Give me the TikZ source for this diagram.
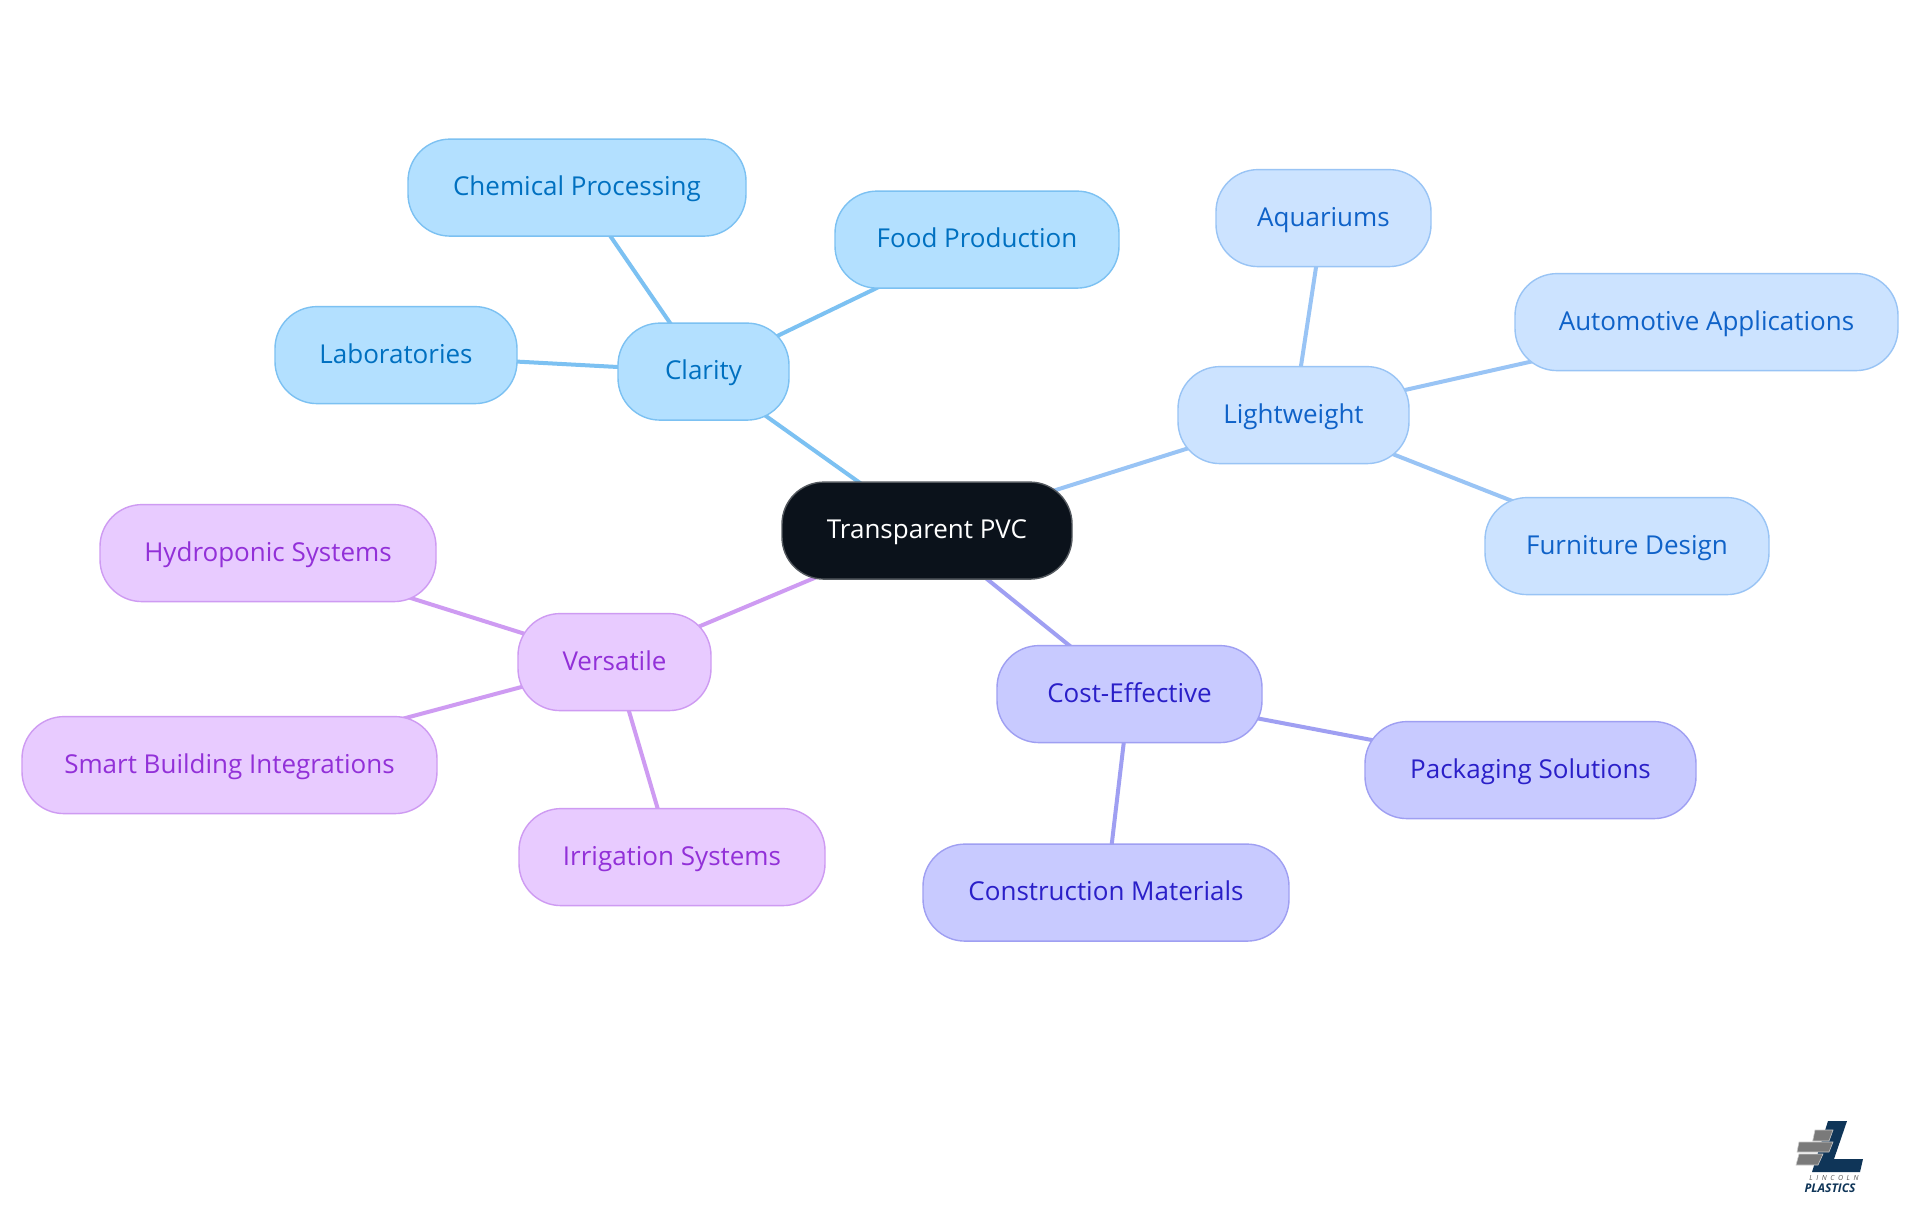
\documentclass[tikz,border=0pt]{standalone}
\usepackage{fontspec}
\setmainfont{Open Sans}
\usetikzlibrary{backgrounds}
\definecolor{cA}{HTML}{B3E0FF}\definecolor{tA}{HTML}{0070C0}\definecolor{eA}{HTML}{7CC1F2}
\definecolor{cB}{HTML}{CCE3FF}\definecolor{tB}{HTML}{0F62C8}\definecolor{eB}{HTML}{99C4F5}
\definecolor{cC}{HTML}{C8CAFF}\definecolor{tC}{HTML}{2A1FC8}\definecolor{eC}{HTML}{9F9FF2}
\definecolor{cD}{HTML}{E8CBFF}\definecolor{tD}{HTML}{9230D8}\definecolor{eD}{HTML}{CE9BF2}
\definecolor{rootc}{HTML}{0B121B}\definecolor{navy}{HTML}{0F3558}\definecolor{brick}{HTML}{7A7A7A}
\tikzset{x=1pt,y=-1pt,
 pill/.style={rounded corners=42pt,line width=1.4pt,inner sep=0pt,text height=22pt,text depth=6pt,font=\fontsize{26}{30}\selectfont},
 rootpill/.style={pill,fill=rootc,draw=rootc!70!white,text=white},
 pa/.style={pill,fill=cA,draw=eA,text=tA},
 pb/.style={pill,fill=cB,draw=eB,text=tB},
 pc/.style={pill,fill=cC,draw=eC,text=tC},
 pd/.style={pill,fill=cD,draw=eD,text=tD},
 ea/.style={draw=eA,line width=4pt},
 eb/.style={draw=eB,line width=4pt},
 ec/.style={draw=eC,line width=4pt},
 ed/.style={draw=eD,line width=4pt},
 brickshape/.style={fill=brick,draw=brick!40!white,line width=0.6pt}}
\newcommand{\pillnode}[7]{\node[#2,minimum width=#5pt-#3pt,minimum height=97pt] (#1) at ({(#3+#5)/2},{(#4+#6)/2+0.6}) {#7};}
\begin{document}
\begin{tikzpicture}
\useasboundingbox (0,0) rectangle (1920,1215);
\pillnode{root}{rootpill}{782}{481}{1072}{579}{Transparent PVC}
\pillnode{clarity}{pa}{618}{322}{789}{420}{Clarity}
\pillnode{chem}{pa}{408}{138}{746}{236}{Chemical Processing}
\pillnode{food}{pa}{835}{190}{1119}{288}{Food Production}
\pillnode{lab}{pa}{275}{306}{517}{403}{Laboratories}
\pillnode{light}{pb}{1178}{366}{1409}{463}{Lightweight}
\pillnode{aqua}{pb}{1216}{169}{1431}{266}{Aquariums}
\pillnode{auto}{pb}{1515}{273}{1898}{370}{Automotive Applications}
\pillnode{furn}{pb}{1485}{497}{1769}{594}{Furniture Design}
\pillnode{cost}{pc}{997}{645}{1262}{742}{Cost-Effective}
\pillnode{pack}{pc}{1365}{721}{1696}{818}{Packaging Solutions}
\pillnode{cons}{pc}{923}{844}{1289}{940}{Construction Materials}
\pillnode{vers}{pd}{518}{613}{711}{710}{Versatile}
\pillnode{hydro}{pd}{100}{504}{436}{601}{Hydroponic Systems}
\pillnode{smart}{pd}{22}{716}{437}{813}{Smart Building Integrations}
\pillnode{irri}{pd}{519}{808}{825}{905}{Irrigation Systems}
\begin{scope}[on background layer]
\fill[white] (0,0) rectangle (1920,1215);
\draw[ea] (root.center)--(clarity.center);
\draw[ea] (clarity.center)--(chem.center);
\draw[ea] (clarity.center)--(food.center);
\draw[ea] (clarity.center)--(lab.center);
\draw[eb] (root.center)--(light.center);
\draw[eb] (light.center)--(aqua.center);
\draw[eb] (light.center)--(auto.center);
\draw[eb] (light.center)--(furn.center);
\draw[ec] (root.center)--(cost.center);
\draw[ec] (cost.center)--(pack.center);
\draw[ec] (cost.center)--(cons.center);
\draw[ed] (root.center)--(vers.center);
\draw[ed] (vers.center)--(hydro.center);
\draw[ed] (vers.center)--(smart.center);
\draw[ed] (vers.center)--(irri.center);
\end{scope}
% logo
\fill[navy] (1828,1121)--(1847,1121)--(1834,1159)--(1863,1159)--(1860,1172)--(1812,1172)--cycle;
\path[brickshape] (1815,1130)--(1833,1130)--(1829,1141)--(1812.7,1141)--cycle;
\path[brickshape] (1799,1142)--(1833,1142)--(1829,1152)--(1797,1152)--cycle;
\path[brickshape] (1799,1154)--(1823,1154)--(1818,1165)--(1796,1165)--cycle;
\node[font=\fontsize{7}{8}\selectfont\itshape,text=brick!70!black,inner sep=0pt] (lincoln) at (1834,1178) {L\hspace{3.6pt}I\hspace{3.6pt}N\hspace{3.6pt}C\hspace{3.6pt}O\hspace{3.6pt}L\hspace{3.6pt}N};
\node[font=\fontsize{12}{13}\selectfont\bfseries\itshape,text=navy,inner sep=0pt] (plastics) at (1830,1188.5) {PLASTICS};
\end{tikzpicture}
\end{document}
